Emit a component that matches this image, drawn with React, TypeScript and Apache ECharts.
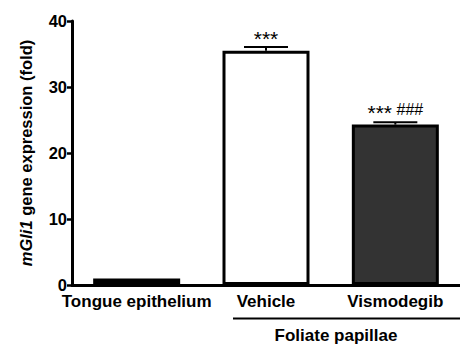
import React, { useEffect, useRef } from "react";
import * as echarts from "echarts";

const categories = ["Tongue epithelium", "Vehicle", "Vismodegib"];
const means = [1.0, 35.5, 24.3];
const errors = [0, 0.55, 0.35];
const fills = ["#000000", "#ffffff", "#333333"];
const annotations = ["", "{a|***}", "{a|***}{h| ###}"];
const yTicks = [0, 10, 20, 30, 40];
const groupLabel = "Foliate papillae";

const FONT = "'Liberation Sans', Arial, Helvetica, sans-serif";

export default function App() {
  const ref = useRef<HTMLDivElement>(null);
  useEffect(() => {
    if (!ref.current) return;
    const chart = echarts.init(ref.current, undefined, { renderer: "svg" });
    chart.setOption({
      animation: false,
      backgroundColor: "#ffffff",
      textStyle: { fontFamily: FONT },
      grid: { left: 72, top: 21, width: 398, height: 264, containLabel: false },
      xAxis: {
        type: "category",
        data: categories,
        axisLine: { lineStyle: { color: "#000", width: 3 } },
        axisTick: { alignWithLabel: true, length: 4, lineStyle: { color: "#000", width: 2.5 } },
        axisLabel: {
          color: "#000",
          fontWeight: "bold",
          fontSize: 17,
          lineHeight: 17,
          margin: 8,
          interval: 0,
          fontFamily: FONT,
        },
        splitLine: { show: false },
      },
      yAxis: {
        type: "value",
        min: yTicks[0],
        max: yTicks[yTicks.length - 1],
        interval: 10,
        name: "{i|mGli1} gene expression (fold)",
        nameLocation: "middle",
        nameGap: 38,
        nameTextStyle: {
          color: "#000",
          fontSize: 16.5,
          fontWeight: "bold",
          fontFamily: FONT,
          rich: {
            i: { fontStyle: "italic", fontWeight: "bold", fontSize: 16.5, color: "#000", fontFamily: FONT },
          },
        },
        axisLine: { show: true, lineStyle: { color: "#000", width: 3 } },
        axisTick: { show: true, length: 5, lineStyle: { color: "#000", width: 2.5 } },
        axisLabel: {
          color: "#000",
          fontWeight: "bold",
          fontSize: 16.5,
          lineHeight: 12,
          margin: 5,
          fontFamily: FONT,
        },
        splitLine: { show: false },
      },
      series: [
        {
          type: "bar",
          barWidth: 87,
          data: means.map((v, i) => ({
            value: v,
            itemStyle: { color: fills[i], borderColor: "#000", borderWidth: 3 },
            label: {
              show: annotations[i] !== "",
              position: "top",
              distance: 2,
              formatter: annotations[i],
              rich: {
                a: { fontSize: 21, color: "#000", fontFamily: FONT, padding: [8, 0, 0, 0] },
                h: { fontSize: 16, color: "#000", fontFamily: FONT, padding: [2, 0, 0, 0] },
              },
            },
          })),
          z: 2,
        },
        {
          type: "custom",
          z: 3,
          data: means.map((v, i) => [i, v, v + errors[i]]),
          renderItem: (params: any, api: any) => {
            const idx = api.value(0);
            if (api.value(2) <= api.value(1)) return null;
            const base = api.coord([idx, api.value(1)]);
            const top = api.coord([idx, api.value(2)]);
            const half = 22;
            return {
              type: "group",
              children: [
                {
                  type: "line",
                  shape: { x1: base[0], y1: base[1], x2: top[0], y2: top[1] },
                  style: { stroke: "#000", lineWidth: 2 },
                },
                {
                  type: "line",
                  shape: { x1: top[0] - half, y1: top[1], x2: top[0] + half, y2: top[1] },
                  style: { stroke: "#000", lineWidth: 2 },
                },
              ],
            };
          },
        },
      ],
      graphic: [
        {
          type: "line",
          shape: { x1: 233, y1: 318.5, x2: 460, y2: 318.5 },
          style: { stroke: "#000", lineWidth: 1.8 },
        },
        {
          type: "text",
          x: 336,
          y: 335.5,
          style: {
            text: groupLabel,
            fontSize: 17,
            fontWeight: "bold",
            fontFamily: FONT,
            fill: "#000",
            textAlign: "center",
            textVerticalAlign: "middle",
          },
        },
      ],
    });
    return () => chart.dispose();
  }, []);
  return (
    <div
      ref={ref}
      style={{ position: "fixed", left: 0, top: 0, width: 460, height: 345 }}
    />
  );
}
